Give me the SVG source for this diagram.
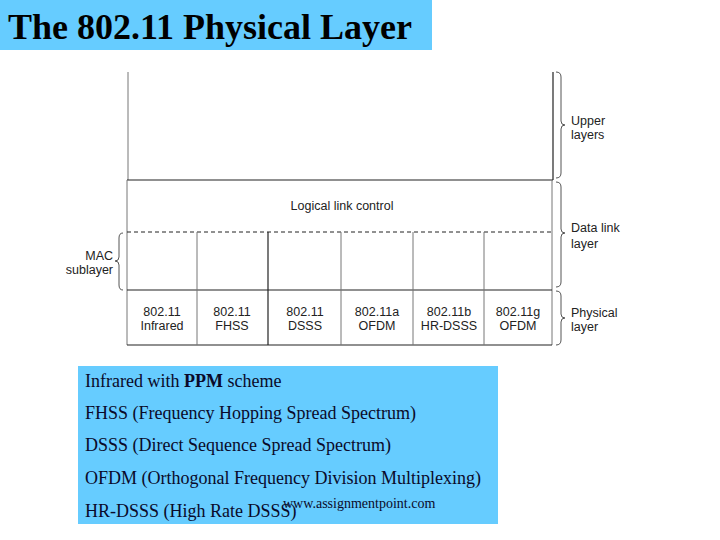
<svg xmlns="http://www.w3.org/2000/svg" width="720" height="540" viewBox="0 0 720 540">
<style>
.lbl{font-family:"Liberation Sans",Arial,sans-serif;font-size:12.5px;fill:#222}
.mid{text-anchor:middle}
.ln{stroke:#222;stroke-width:1.2;fill:none}
.lg{stroke:#777;stroke-width:1;fill:none}
.br{stroke:#555;stroke-width:1;fill:none}
.body{font-family:"Liberation Serif","Times New Roman",serif;font-size:18px;fill:#0a0a2a}
</style>
<rect width="720" height="540" fill="#fff"/>
<g id="title">
<rect x="0" y="0" width="432" height="50" fill="#66CCFF"/>
<text x="8" y="39" font-family="Liberation Serif,'Times New Roman',serif" font-size="36" font-weight="bold" fill="#000">The 802.11 Physical Layer</text>
</g>
<g id="connectors">
<line class="lg" x1="128" y1="72" x2="128" y2="180"/>
<line class="ln" x1="553" y1="72" x2="553" y2="180"/>
<line class="ln" x1="127" y1="180" x2="553" y2="180"/>
<line class="lg" x1="127" y1="180" x2="127" y2="345"/>
<line class="lg" x1="552" y1="180" x2="552" y2="345"/>
<line x1="127" y1="232" x2="552" y2="232" stroke="#222" stroke-width="1" stroke-dasharray="4,3"/>
<line class="ln" x1="127" y1="290" x2="552" y2="290"/>
<line class="ln" x1="127" y1="345" x2="552" y2="345"/>
<line class="lg" x1="197" y1="232" x2="197" y2="345"/>
<line class="ln" x1="268" y1="232" x2="268" y2="345"/>
<line class="lg" x1="341" y1="232" x2="341" y2="345"/>
<line class="lg" x1="413" y1="232" x2="413" y2="345"/>
<line class="lg" x1="484" y1="232" x2="484" y2="345"/>
<path class="br" d="M556,72 Q561,72 561,77 L561,121 Q561,125 565,125 Q561,125 561,129 L561,173 Q561,178 556,178"/>
<path class="br" d="M556,182 Q561,182 561,187 L561,229 Q561,233 565,233 Q561,233 561,237 L561,282 Q561,287 556,287"/>
<path class="br" d="M556,291 Q561,291 561,296 L561,314 Q561,318 565,318 Q561,318 561,322 L561,340 Q561,345 556,345"/>
<path class="br" d="M123,233 Q119,233 119,238 L119,257 Q119,261 115,261 Q119,261 119,265 L119,285 Q119,290 123,290"/>
</g>
<g id="llc"><text class="lbl mid" x="342" y="210">Logical link control</text></g>
<g id="upper"><text class="lbl" x="571" y="125">Upper</text><text class="lbl" x="571" y="139">layers</text></g>
<g id="datalink"><text class="lbl" x="571" y="232">Data link</text><text class="lbl" x="571" y="248">layer</text></g>
<g id="physical"><text class="lbl" x="571" y="317">Physical</text><text class="lbl" x="571" y="331">layer</text></g>
<g id="mac"><text class="lbl" x="113" y="260" text-anchor="end">MAC</text><text class="lbl" x="113" y="274" text-anchor="end">sublayer</text></g>
<g id="col1"><text class="lbl mid" x="162" y="316">802.11</text><text class="lbl mid" x="162" y="330">Infrared</text></g>
<g id="col2"><text class="lbl mid" x="232" y="316">802.11</text><text class="lbl mid" x="232" y="330">FHSS</text></g>
<g id="col3"><text class="lbl mid" x="305" y="316">802.11</text><text class="lbl mid" x="305" y="330">DSSS</text></g>
<g id="col4"><text class="lbl mid" x="377" y="316">802.11a</text><text class="lbl mid" x="377" y="330">OFDM</text></g>
<g id="col5"><text class="lbl mid" x="449" y="316">802.11b</text><text class="lbl mid" x="449" y="330">HR-DSSS</text></g>
<g id="col6"><text class="lbl mid" x="518" y="316">802.11g</text><text class="lbl mid" x="518" y="330">OFDM</text></g>
<g id="legend">
<rect x="78" y="366" width="420" height="158" fill="#66CCFF"/>
<text class="body" x="85" y="387">Infrared with <tspan font-weight="bold">PPM</tspan> scheme</text>
<text class="body" x="85" y="419">FHSS (Frequency Hopping Spread Spectrum)</text>
<text class="body" x="85" y="451">DSSS (Direct Sequence Spread Spectrum)</text>
<text class="body" x="85" y="484">OFDM (Orthogonal Frequency Division Multiplexing)</text>
<text class="body" x="85" y="517">HR-DSSS (High Rate DSSS)</text>
<text x="283" y="508" font-family="Liberation Serif,'Times New Roman',serif" font-size="14" fill="#0a0a2a">www.assignmentpoint.com</text>
</g>
</svg>
